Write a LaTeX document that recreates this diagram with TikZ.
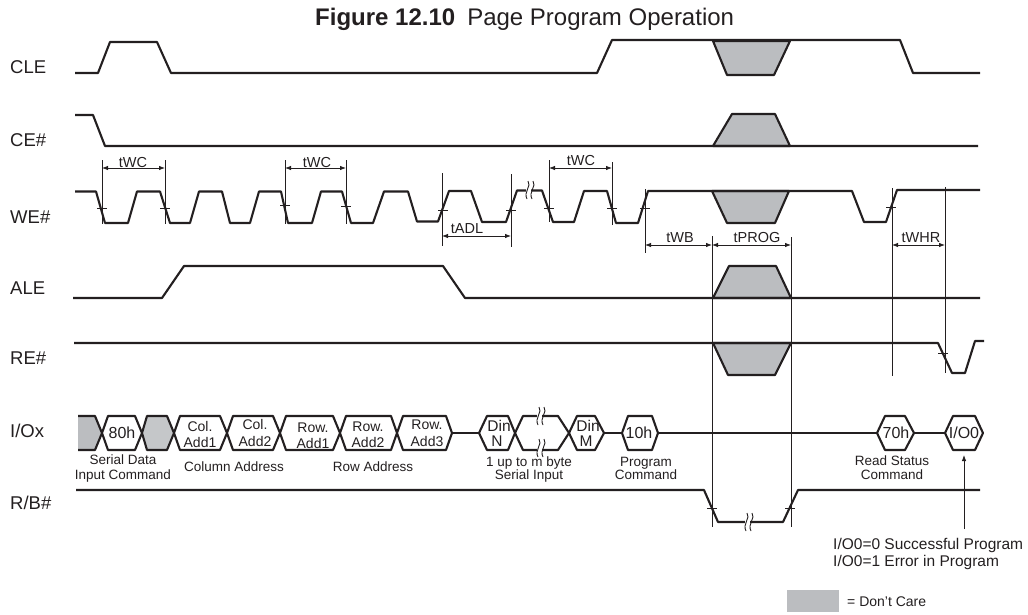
\documentclass[tikz,border=0pt]{standalone}
\usepackage{fontspec}
\setmainfont{Liberation Sans}
\usetikzlibrary{arrows.meta}
\definecolor{ink}{HTML}{231F20}
\definecolor{dc}{HTML}{BBBDC0}
\tikzset{
 wave/.style={draw=ink,line width=2.1pt,line join=round},
 care/.style={fill=dc,draw=ink,line width=2.1pt,line join=round},
 tline/.style={draw=ink,line width=0.9pt},
 dimline/.style={draw=ink,line width=0.8pt,{Latex[length=6pt,width=4.5pt]}-{Latex[length=6pt,width=4.5pt]}},
 txt/.style={inner sep=0pt,text=ink,text depth=0pt,anchor=center},
 sig/.style={txt,anchor=west,text height=13.3pt,font=\fontsize{18.5}{18.5}\selectfont},
 captxt/.style={txt,text height=9.7pt,font=\fontsize{13.5}{13.5}\selectfont},
 dimt/.style={txt,text height=10.4pt,font=\fontsize{14.5}{14.5}\selectfont},
 bus/.style={txt,text height=10pt,font=\fontsize{14}{14}\selectfont},
 busb/.style={txt,text height=11.5pt,font=\fontsize{16}{16}\selectfont},
 dint/.style={txt,text height=11.2pt,font=\fontsize{15.5}{15.5}\selectfont},
 brk/.style={draw=ink,line width=0.9pt},
}
\newcommand{\brkmark}[2]{%
 \fill[white] (#1-2.5,#2-8) rectangle (#1+2.5,#2+8);
 \draw[brk] (#1,#2-9) .. controls (#1+4,#2-4) and (#1-5,#2+2) .. (#1-1,#2+9);
 \draw[brk] (#1+5,#2-9) .. controls (#1+9,#2-4) and (#1,#2+2) .. (#1+4,#2+9);
}
\newcommand{\hexa}[5][]{% x0,x1,x2,x3 of a bus cell
 \draw[wave,#1] (#2,433) -- (#3,416) -- (#4,416) -- (#5,433) -- (#4,450) -- (#3,450) -- cycle;
}
\begin{document}
\begin{tikzpicture}[x=1pt,y=-1pt]
\path[use as bounding box] (0,0) rectangle (1028,614);

% title
\node[txt,anchor=west,text height=17pt,font=\fontsize{24}{24}\selectfont] (title) at (315,17) {\textbf{Figure 12.10}\hspace{0.5em}Page Program Operation};

% signal names
\node[sig] (lcle) at (10,67) {CLE};
\node[sig] (lce) at (10,140) {CE\#};
\node[sig] (lwe) at (10,217) {WE\#};
\node[sig] (lale) at (10,288) {ALE};
\node[sig] (lre) at (10,358) {RE\#};
\node[sig] (lio) at (10,431) {I/Ox};
\node[sig] (lrb) at (10,503) {R/B\#};

% don't care areas
\draw[care] (713,41) -- (727,75) -- (774,75) -- (790,41) -- cycle;
\draw[care] (713,146) -- (732,114) -- (775,114) -- (790,146) -- cycle;
\draw[care] (712,191) -- (727,223) -- (775,223) -- (789,191) -- cycle;
\draw[care] (713,298) -- (729,266) -- (776,266) -- (791,298) -- cycle;
\draw[care] (713,343) -- (728,375) -- (775,375) -- (791,343) -- cycle;

% vertical timing lines
\draw[tline] (102,160) -- (102,224);
\draw[tline] (165,160) -- (165,224);
\draw[tline] (285,160) -- (285,224);
\draw[tline] (346,160) -- (346,224);
\draw[tline] (442,173) -- (442,246);
\draw[tline] (511,174) -- (511,247);
\draw[tline] (549,160) -- (549,222);
\draw[tline] (612,162) -- (612,225);
\draw[tline] (645,189) -- (645,253);
\draw[tline] (712,236) -- (712,527);
\draw[tline] (791,237) -- (791,527);
\draw[tline] (892,188) -- (892,376);
\draw[tline] (945,187) -- (945,373);

% waveforms
\draw[wave] (75,73) -- (98,73) -- (110,42) -- (157,42) -- (171,73) -- (597,73) -- (612,40) -- (900,40) -- (913,73) -- (980,73);
\draw[wave] (75,115) -- (93,115) -- (105,146) -- (978,146);
\draw[wave] (75,191.5) -- (96,191.5) -- (105,223) -- (128,223) -- (137,191.5) -- (160,191.5) -- (170,223) -- (190,223) -- (199,191.5) -- (222,191.5) -- (230,223) -- (250,223) -- (259,191.5) -- (281,191.5) -- (288,223) -- (312,223) -- (321,191.5) -- (342,191.5) -- (351,223) -- (373,223) -- (384,191.5) -- (408,191.5) -- (417,221.5) -- (438,221.5) -- (449,191) -- (471,191) -- (482,222) -- (506,222) -- (517,190.5) -- (542,190.5) -- (553,222) -- (574,222) -- (584,191) -- (607,191) -- (616,223) -- (638,223) -- (648,191) -- (852,191) -- (864,222) -- (886,222) -- (897,190) -- (980,190);
\draw[wave] (73,298) -- (162,298) -- (184,266) -- (443,266) -- (465,298) -- (980,298);
\draw[wave] (74,343) -- (938,343) -- (952,373) -- (965,373) -- (975,341) -- (984,341);
\draw[wave] (76,490) -- (704,490) -- (718,522) -- (783,522) -- (798,490) -- (980,490);

% wave crossing ticks
\foreach \tx/\ty in {102/208,165/208,285/205,346/206,443/210,511/210,549/208,612/208,645/208,891/207,943/353,712/508,790/508}
 \draw[tline] (\tx-5,\ty) -- (\tx+5,\ty);

% breaks in the waveforms
\brkmark{528}{190}
\brkmark{747}{522}

% bus
\draw[wave] (452,433) -- (479,433);
\draw[wave] (604,433) -- (622,433);
\draw[wave] (658,433) -- (877,433);
\draw[wave] (914,433) -- (945,433);
\path[fill=dc] (78,416) -- (95,416) -- (102,433) -- (95,450) -- (78,450) -- cycle;
\draw[wave] (78,416) -- (95,416) -- (102,433) -- (95,450) -- (78,450);
\draw[care,fill=dc!85!white] (142,433) -- (147,416) -- (167,416) -- (174,433) -- (167,450) -- (147,450) -- cycle;
\hexa{102}{108}{135}{142}
\hexa{174}{180}{220}{227}
\hexa{227}{233}{273}{280}
\hexa{280}{286}{333}{340}
\hexa{340}{346}{391}{397}
\hexa{397}{403}{446}{452}
\hexa{479}{487}{508}{515}
\hexa{515}{523}{558}{569}
\hexa{569}{577}{595}{604}
\hexa{622}{628}{652}{658}
\hexa{877}{885}{905}{914}
\hexa{945}{953}{975}{983}
\brkmark{539}{416}
\brkmark{539}{448}

% bus texts
\node[busb] (t80) at (122,433) {80h};
\node[bus] (c1a) at (200,426) {Col.};
\node[bus] (c1b) at (200,442) {Add1};
\node[bus] (c2a) at (255,424) {Col.};
\node[bus] (c2b) at (255,441) {Add2};
\node[bus] (r1a) at (313,427) {Row.};
\node[bus] (r1b) at (313,443) {Add1};
\node[bus] (r2a) at (368,426) {Row.};
\node[bus] (r2b) at (368,442) {Add2};
\node[bus] (r3a) at (427,424) {Row.};
\node[bus] (r3b) at (427,441) {Add3};
\node[dint] (dna) at (499,426) {Din};
\node[dint] (dnb) at (497,441) {N};
\node[dint] (dma) at (588,426) {Din};
\node[dint] (dmb) at (586,441) {M};
\node[busb] (t10) at (639,433) {10h};
\node[busb] (t70) at (896,433) {70h};
\node[busb] (tio) at (964,433) {I/O0};

% captions
\node[captxt] (k1a) at (123,460) {Serial Data};
\node[captxt] (k1b) at (123,475) {Input Command};
\node[captxt] (k2) at (234,467) {Column Address};
\node[captxt] (k3) at (373,467) {Row Address};
\node[captxt] (k4a) at (529,462) {1 up to m byte};
\node[captxt] (k4b) at (529,475) {Serial Input};
\node[captxt] (k5a) at (646,462) {Program};
\node[captxt] (k5b) at (646,475) {Command};
\node[captxt] (k6a) at (892,461) {Read Status};
\node[captxt] (k6b) at (892,475) {Command};

% timing dimensions
\draw[dimline] (102,168) -- (165,168);
\draw[dimline] (285,168) -- (346,168);
\draw[dimline] (442,236) -- (511,236);
\draw[dimline] (549,168) -- (612,168);
\draw[dimline] (645,245) -- (712,245);
\draw[dimline] (712,245) -- (791,245);
\draw[dimline] (892,245) -- (945,245);
\node[dimt] (d1) at (133,162) {tWC};
\node[dimt] (d2) at (317,162) {tWC};
\node[dimt] (d3) at (467,228) {tADL};
\node[dimt] (d4) at (581,160) {tWC};
\node[dimt] (d5) at (680,237) {tWB};
\node[dimt] (d6) at (757,237) {tPROG};
\node[dimt] (d7) at (921,237) {tWHR};

% note
\node[txt,anchor=west,text height=11.2pt,font=\fontsize{15.5}{15.5}\selectfont] (n1) at (833,544) {I/O0=0 Successful Program};
\node[txt,anchor=west,text height=11.2pt,font=\fontsize{15.5}{15.5}\selectfont] (n2) at (833,561) {I/O0=1 Error in Program};
\coordinate (noteend) at (964,529);
\coordinate (iotip) at (964,455);
\draw[draw=ink,line width=0.8pt,-{Latex[length=6pt,width=4.5pt]}] (noteend) -- (iotip);

% legend
\fill[dc] (787,590) rectangle (839,612);
\node[txt,anchor=west,text height=10pt,font=\fontsize{14}{14}\selectfont] (leg) at (847,601) {= Don't Care};
\end{tikzpicture}
\end{document}
